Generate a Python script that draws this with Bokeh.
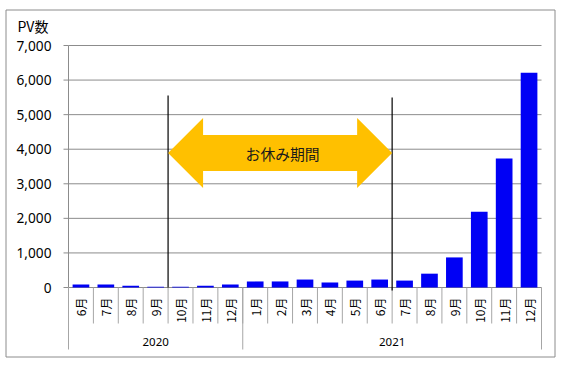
from bokeh.plotting import figure
from bokeh.models import Range1d
from bokeh.core.properties import value
from bokeh.embed import file_html
from bokeh.resources import INLINE
import math

# ---- data ----
years = ["2020"] * 7 + ["2021"] * 12
months = ["6月", "7月", "8月", "9月", "10月", "11月", "12月",
          "1月", "2月", "3月", "4月", "5月", "6月", "7月", "8月", "9月", "10月", "11月", "12月"]
pv = [90, 90, 50, 25, 25, 50, 90,
      175, 175, 230, 145, 200, 230, 200, 400, 870, 2190, 3730, 6210]
y_ticks = [0, 1000, 2000, 3000, 4000, 5000, 6000, 7000]
year_labels = ["2020", "2021"]
axis_title = "PV数"
break_label = "お休み期間"
break_start = 4    # index of 10月 2020
break_end = 13     # index of 7月 2021

JP = value("Noto Sans CJK JP")
SANS = value("Noto Sans")
n = len(months)
xs = [i + 0.5 for i in range(n)]

W, H = 563, 365
# pixel layout of the value area
PX_L, PX_R, PX_TOP, PX_ZERO = 68, 541, 45, 287
sx = (PX_R - PX_L) / n                  # px per category
sy = (PX_ZERO - PX_TOP) / y_ticks[-1]   # px per unit
def dx(px):
    return (px - PX_L) / sx
def dy(py):
    return (PX_ZERO - py) / sy

p = figure(width=W, height=H, output_backend="svg", toolbar_location=None,
           x_range=Range1d(dx(0), dx(W)), y_range=Range1d(dy(H), dy(0)),
           x_axis_location=None, y_axis_location=None,
           min_border=0, min_border_left=0, min_border_right=0,
           min_border_top=0, min_border_bottom=0)
p.outline_line_color = None
p.background_fill_color = "white"
p.border_fill_color = "white"
p.grid.visible = False

# outer border
p.quad(left=[dx(5.5)], right=[dx(554.5)], top=[dy(9.5)], bottom=[dy(356.5)],
       fill_color=None, line_color="#8c8c8c", line_width=1)

# grid lines
p.segment(x0=[0] * len(y_ticks), y0=y_ticks, x1=[n] * len(y_ticks), y1=y_ticks,
          line_color="#8c8c8c", line_width=1)
# y axis line and ticks
p.segment(x0=[0], y0=[0], x1=[0], y1=[y_ticks[-1]], line_color="#8c8c8c", line_width=1)
p.segment(x0=[dx(63)] * len(y_ticks), y0=y_ticks, x1=[0] * len(y_ticks), y1=y_ticks,
          line_color="#8c8c8c", line_width=1)
# y tick labels
p.text(x=[dx(51)] * len(y_ticks), y=y_ticks, text=[f"{t:,}" for t in y_ticks],
       text_align="right", text_baseline="middle", text_font=SANS,
       text_font_size="13.7px", text_color="#000000")

# bars
p.vbar(x=xs, top=pv, width=0.67, bottom=0, fill_color="#0000F5", line_color=None)

# category table separators
edges = list(range(n + 1))
p.segment(x0=edges, y0=[0] * len(edges), x1=edges, y1=[dy(323)] * len(edges),
          line_color="#a6a6a6", line_width=1)
group_edges = [0]
for i in range(1, n):
    if years[i] != years[i - 1]:
        group_edges.append(i)
group_edges.append(n)
p.segment(x0=group_edges, y0=[0] * len(group_edges), x1=group_edges,
          y1=[dy(349)] * len(group_edges), line_color="#a6a6a6", line_width=1)

# month labels (vertical)
p.text(x=xs, y=[dy(297)] * n, text=months, angle=math.pi / 2, text_align="right",
       text_baseline="middle", text_font=JP, text_font_size="12px", text_color="#000000")

# year labels
yc = [(group_edges[k] + group_edges[k + 1]) / 2 for k in range(len(group_edges) - 1)]
p.text(x=yc, y=[dy(341)] * len(yc), text=year_labels, text_align="center",
       text_baseline="middle", text_font=SANS, text_font_size="11.5px",
       text_color="#000000")

# axis title
p.text(x=[dx(17)], y=[dy(25)], text=[axis_title], text_align="left",
       text_baseline="middle", text_font=JP, text_font_size="14px", text_color="#000000")

# break lines
p.segment(x0=[break_start, break_end], y0=[0, dy(290)], x1=[break_start, break_end],
          y1=[dy(95), dy(97)], line_color="black", line_width=1.2)

# double arrow
cy = dy(152.5)
bh = 18 / sy
hh = 35 / sy
hl = 35 / sx
ax = [break_start, break_start + hl, break_start + hl, break_end - hl, break_end - hl,
      break_end, break_end - hl, break_end - hl, break_start + hl, break_start + hl]
ay = [cy, cy + hh, cy + bh, cy + bh, cy + hh, cy, cy - hh, cy - bh, cy - bh, cy - hh]
p.patch(x=ax, y=ay, fill_color="#FFC000", line_color=None)
p.text(x=[(break_start + break_end) / 2 + 0.1], y=[cy], text=[break_label],
       text_align="center", text_baseline="middle", text_font=JP,
       text_font_size="14.8px", text_color="#1a1a1a")

open("out.html", "w").write(file_html(p, INLINE))
